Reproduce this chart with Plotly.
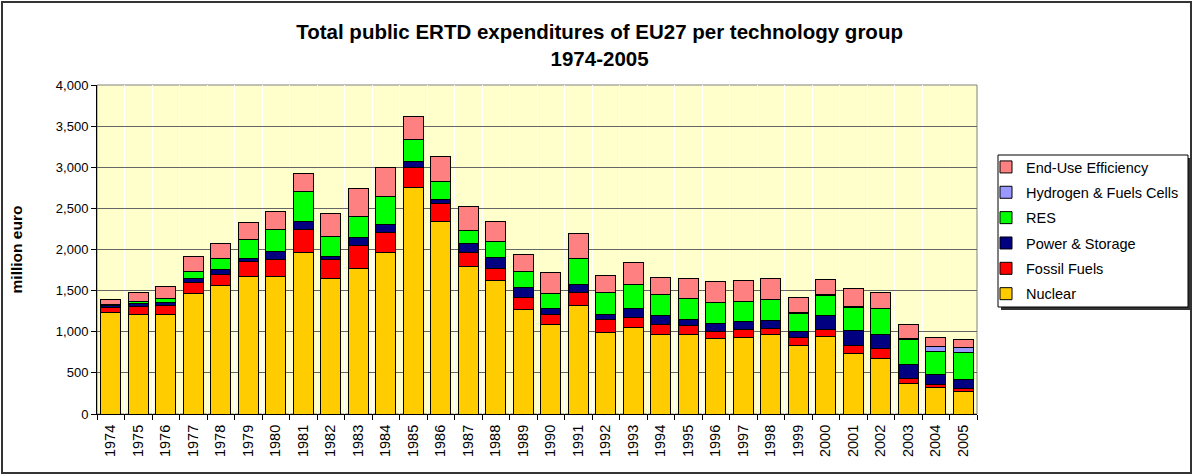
import plotly.graph_objects as go

years = [str(y) for y in range(1974, 2006)]

nuclear = [1230, 1212, 1212, 1464, 1558, 1668, 1668, 1966, 1652, 1763, 1966, 2749, 2341, 1795, 1619, 1273,
           1089, 1322, 991, 1053, 967, 967, 918, 930, 962, 836, 946, 738, 677, 371, 322, 269]
fossil = [60, 100, 105, 139, 139, 188, 205, 281, 221, 281, 237, 253, 217, 171, 152, 142,
          123, 154, 155, 126, 122, 105, 89, 93, 78, 89, 77, 98, 114, 57, 40, 44]
power = [28, 37, 41, 41, 57, 33, 101, 98, 37, 98, 98, 62, 49, 103, 130, 127,
         65, 103, 66, 101, 114, 82, 98, 103, 102, 74, 180, 180, 176, 175, 119, 103]
res = [12, 20, 50, 89, 135, 232, 273, 355, 245, 261, 343, 269, 220, 162, 200, 188,
       187, 310, 269, 294, 245, 245, 254, 245, 245, 225, 237, 281, 310, 303, 282, 326]
hydrogen = [0, 0, 0, 0, 0, 0, 0, 0, 0, 0, 0, 0, 0, 0, 0, 0,
            0, 0, 0, 0, 0, 0, 0, 0, 8, 5, 8, 8, 8, 10, 57, 61]
efficiency = [57, 114, 138, 188, 187, 212, 221, 221, 285, 339, 358, 282, 302, 286, 240, 208,
              253, 302, 208, 269, 208, 245, 248, 252, 257, 186, 184, 217, 192, 167, 114, 103]

series = [
    ("Nuclear", nuclear, "#FFCC00"),
    ("Fossil Fuels", fossil, "#FF0000"),
    ("Power & Storage", power, "#000080"),
    ("RES", res, "#00FF00"),
    ("Hydrogen & Fuels Cells", hydrogen, "#9999FF"),
    ("End-Use Efficiency", efficiency, "#FF8080"),
]

FONT = "Liberation Sans, Arial, sans-serif"

fig = go.Figure()
for i, (name, vals, col) in enumerate(series):
    fig.add_trace(go.Bar(
        x=years, y=vals, name=name, legendgroup=name, legendrank=len(series) - i,
        marker=dict(color=col, line=dict(color="#000000", width=1)),
    ))

# plot area in pixels: x 97..977, y 85..414
L, R, T, B = 97, 977, 85, 414
W, H = 1192, 475
pw, ph = R - L, B - T

def px(x):
    return (x - L) / pw

def py(y):
    return (B - y) / ph

shapes = [
    # outer frame
    dict(type="rect", xref="paper", yref="paper", x0=px(2), x1=px(1191), y0=py(473), y1=py(2),
         line=dict(color="#333333", width=2), fillcolor="rgba(0,0,0,0)", layer="above"),
    # plot area border
    dict(type="rect", xref="paper", yref="paper", x0=0, x1=1, y0=0, y1=1,
         line=dict(color="#808080", width=1), fillcolor="rgba(0,0,0,0)", layer="below"),
    # legend shadow + box
    dict(type="rect", xref="paper", yref="paper", x0=px(1001), x1=px(1191), y0=py(310), y1=py(158),
         line=dict(width=0), fillcolor="#333333", layer="above"),
    dict(type="rect", xref="paper", yref="paper", x0=px(998), x1=px(1188), y0=py(307), y1=py(155),
         line=dict(color="#000000", width=1), fillcolor="#FFFFFF", layer="above"),
]

fig.update_layout(
    width=W, height=H,
    barmode="stack", bargap=0.27,
    paper_bgcolor="#FFFFFF", plot_bgcolor="#FFFFCC",
    font=dict(family=FONT, size=13, color="#000000"),
    title=dict(
        text="<b>Total public ERTD expenditures of EU27 per technology group<br>1974-2005</b>",
        x=0.503, xanchor="center", y=0.917, yanchor="top",
        font=dict(family=FONT, size=20.5, color="#000000"),
    ),
    margin=dict(l=L, r=W - R, t=T, b=H - B, pad=0, autoexpand=False),
    xaxis=dict(
        type="category", tickson="boundaries", showgrid=True, gridcolor="#FFFFFF", gridwidth=1,
        ticks="outside", ticklen=5, tickcolor="#000000", tickangle=-90,
        showline=True, linecolor="#000000", linewidth=1, ticklabelstandoff=4,
        tickfont=dict(family=FONT, size=14.5),
    ),
    yaxis=dict(
        range=[0, 4000], dtick=500, tickformat=",", showgrid=True, gridcolor="#666666", gridwidth=1,
        ticks="outside", ticklen=5, tickcolor="#000000", zeroline=False,
        showline=True, linecolor="#000000", linewidth=1,
        title=dict(text="<b>million euro</b>", font=dict(family=FONT, size=15.5), standoff=29),
        tickfont=dict(family=FONT, size=13),
    ),
    legend=dict(
        x=px(986), xanchor="left", y=py(151), yanchor="top",
        traceorder="grouped", tracegroupgap=3.5,
        bgcolor="rgba(0,0,0,0)", borderwidth=0,
        font=dict(family=FONT, size=14.5),
    ),
    shapes=shapes,
)

fig.write_html("out.html", config={"displayModeBar": False},
               post_script="document.body.style.margin='0';")
